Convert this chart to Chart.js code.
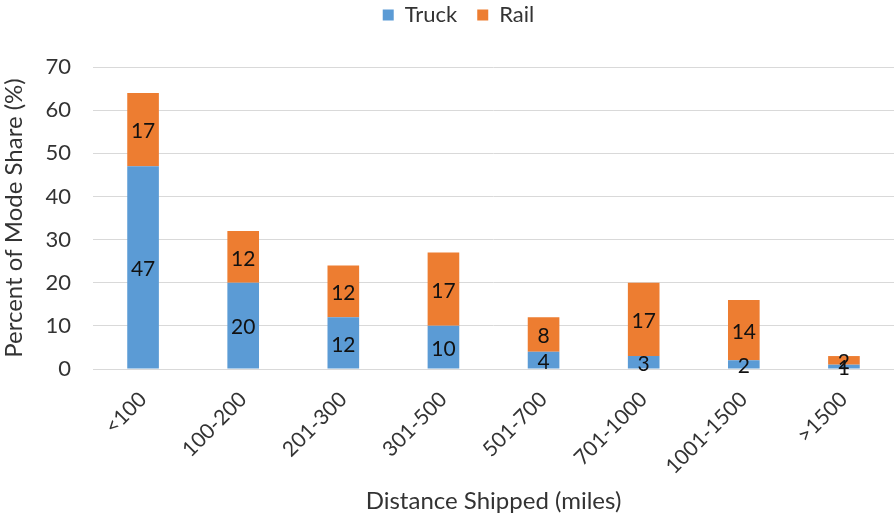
<!DOCTYPE html>
<html>
<head>
<meta charset="utf-8">
<script src="https://cdn.jsdelivr.net/npm/chart.js@4"></script>
<style>
html,body{margin:0;padding:0;background:#fff;overflow:hidden;}
#wrap{width:894px;height:522px;overflow:hidden;}
</style>
</head>
<body>
<div id="wrap"><canvas id="c" width="894" height="522"></canvas></div>
<script>
const categories = ['<100','100-200','201-300','301-500','501-700','701-1000','1001-1500','>1500'];
const truckValues = [47, 20, 12, 10, 4, 3, 2, 1];
const railValues = [17, 12, 12, 17, 8, 17, 14, 2];
const yTicks = [0, 10, 20, 30, 40, 50, 60, 70];

const FONT = 'Lato, "Open Sans", sans-serif';
const TXT = '#333333';

const labelPlugin = {
  id: 'segLabels',
  beforeLayout(chart) {
    const lg = chart.legend;
    if (lg && !lg._fixedH) {
      const f = lg.fit;
      lg.fit = function () { f.call(this); this.height = 83; };
      lg._fixedH = true;
    }
  },
  afterLayout(chart) {
    const lg = chart.legend;
    if (lg) { lg.left += 5; lg.right += 5; }
  },
  afterDatasetsDraw(chart) {
    const ctx = chart.ctx;
    ctx.save();
    ctx.font = '21px ' + FONT;
    ctx.fillStyle = '#111';
    ctx.textAlign = 'center';
    ctx.textBaseline = 'middle';
    chart.data.datasets.forEach((ds, di) => {
      const meta = chart.getDatasetMeta(di);
      meta.data.forEach((bar, i) => {
        const p = bar.getProps(['x','y','base'], true);
        const cy = (p.y + p.base) / 2;
        ctx.fillText(String(ds.data[i]), p.x, cy + 2);
      });
    });
    ctx.restore();
  }
};

new Chart(document.getElementById('c'), {
  type: 'bar',
  data: {
    labels: categories,
    datasets: [
      { label: 'Truck', data: truckValues, backgroundColor: '#5B9BD5', barPercentage: 0.316, categoryPercentage: 1 },
      { label: 'Rail', data: railValues, backgroundColor: '#ED7D31', barPercentage: 0.316, categoryPercentage: 1 }
    ]
  },
  options: {
    responsive: false,
    animation: false,
    layout: { padding: { left: 0, right: -13, top: -16, bottom: 0 } },
    plugins: {
      legend: {
        position: 'top',
        labels: { boxWidth: 11, boxHeight: 11, font: { size: 22, family: FONT }, color: TXT, padding: 20 }
      },
      tooltip: { enabled: false }
    },
    scales: {
      x: {
        stacked: true,
        grid: { display: false, drawTicks: false },
        border: { display: true, color: '#D9D9D9', width: 1 },
        ticks: { maxRotation: 45, minRotation: 45, font: { size: 21, family: FONT }, color: TXT, padding: 18 },
        title: { display: true, text: 'Distance Shipped (miles)', font: { size: 24, family: FONT }, color: TXT, padding: { top: 4, bottom: 6 } },
        afterFit(scale) { scale.height = 153; }
      },
      y: {
        stacked: true,
        min: 0, max: 70,
        afterBuildTicks(scale) { scale.ticks = yTicks.map(v => ({ value: v })); },
        grid: { color: '#D9D9D9', drawTicks: false },
        border: { display: false },
        ticks: { font: { size: 22, family: FONT }, color: TXT, padding: 22 },
        title: { display: true, text: 'Percent of Mode Share (%)', font: { size: 24, family: FONT }, color: TXT, padding: { top: 0, bottom: 0 } },
        afterFit(scale) { scale.width = 93; }
      }
    }
  },
  plugins: [labelPlugin]
});
</script>
</body>
</html>
